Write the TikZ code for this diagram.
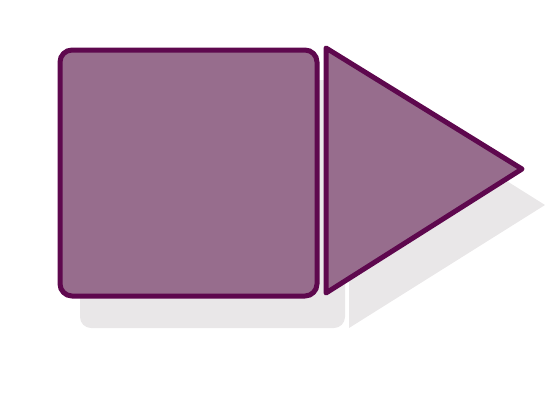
\documentclass[tikz,border=0pt]{standalone}
\definecolor{shapefill}{RGB}{151,109,141}
\definecolor{shapeline}{RGB}{94,8,78}
\definecolor{shadowgray}{RGB}{233,231,232}
\begin{document}
\begin{tikzpicture}[x=1pt,y=-1pt,
  shadowshape/.style={fill=shadowgray,draw=none},
  mainshape/.style={fill=shapefill,draw=shapeline,line width=5pt,line join=round}]
\useasboundingbox (0,0) rectangle (550,400);
% shadows
\fill[shadowgray,rounded corners=11pt] (80,80) rectangle (345,328);
\fill[shadowgray] (349,82) -- (545,205) -- (349,328) -- cycle;
% main shapes
\draw[mainshape,rounded corners=12pt] (60,50) rectangle (317,296);
\draw[mainshape] (326,48) -- (522,169) -- (326,293) -- cycle;
\end{tikzpicture}
\end{document}
